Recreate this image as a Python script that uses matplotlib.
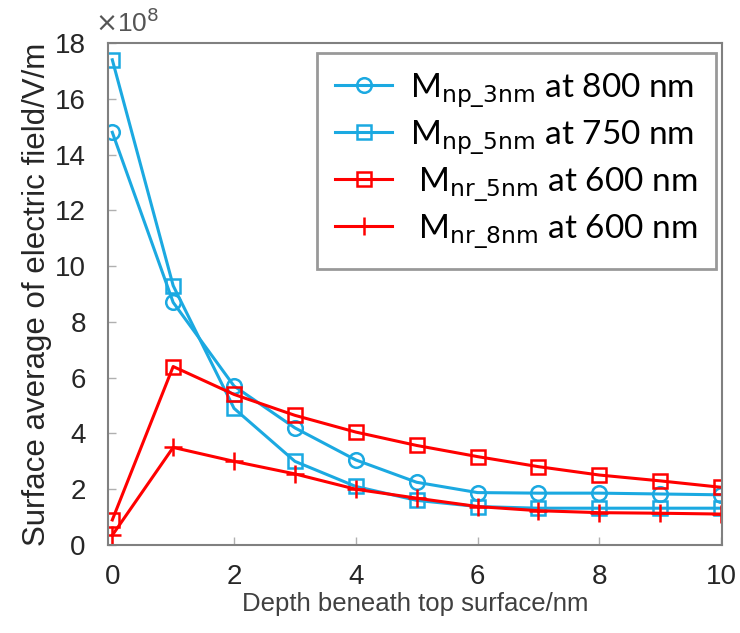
import numpy as np
import matplotlib.pyplot as plt

depth = [0, 1, 2, 3, 4, 5, 6, 7, 8, 9, 10]
np_3nm = [14.8, 8.7, 5.7, 4.2, 3.05, 2.25, 1.88, 1.86, 1.86, 1.83, 1.8]
np_5nm = [17.4, 9.3, 4.9, 3.0, 2.1, 1.6, 1.38, 1.32, 1.32, 1.32, 1.32]
nr_5nm = [0.9, 6.4, 5.4, 4.65, 4.05, 3.57, 3.17, 2.81, 2.51, 2.3, 2.07]
nr_8nm = [0.35, 3.5, 3.0, 2.55, 2.0, 1.68, 1.38, 1.23, 1.16, 1.14, 1.11]

labels = [r'M$_{\mathrm{np\_3nm}}$ at 800 nm',
          r'M$_{\mathrm{np\_5nm}}$ at 750 nm',
          r' M$_{\mathrm{nr\_5nm}}$ at 600 nm',
          r' M$_{\mathrm{nr\_8nm}}$ at 600 nm']

blue = '#1ba9e1'
red = '#ff0000'
gray = '#808080'

plt.rcParams['font.family'] = ['Liberation Sans', 'DejaVu Sans']

fig = plt.figure(figsize=(7.4, 6.33), dpi=100)
ax = fig.add_axes([0.146, 0.139, 0.83, 0.793])

mk = dict(markersize=10.5, markerfacecolor='none', markeredgewidth=1.8, linewidth=2.2)
ax.plot(depth, np_3nm, color=blue, marker='o', label=labels[0], **mk)
ax.plot(depth, np_5nm, color=blue, marker='s', label=labels[1], **mk)
ax.plot(depth, nr_5nm, color=red, marker='s', label=labels[2], **mk)
ax.plot(depth, nr_8nm, color=red, marker='+', label=labels[3], markersize=13,
        markeredgewidth=1.8, linewidth=2.2)

ax.set_xlim(-0.07, 10.02)
ax.set_ylim(0, 18)
ax.set_xticks(range(0, 11, 2))
ax.set_yticks(range(0, 19, 2))

for s in ax.spines.values():
    s.set_color(gray)
    s.set_linewidth(1.5)
ax.tick_params(direction='in', length=6, width=1, color='#b0b0b0',
               labelsize=20, labelcolor='#262626')
ax.tick_params(axis='y', pad=16)
ax.tick_params(axis='x', pad=14)

ax.set_xlabel('Depth beneath top surface/nm', fontsize=18.5, color='#404040',
              labelpad=1)
ax.set_ylabel('Surface average of electric field/V/m', fontsize=22.5,
              color='#262626', labelpad=2)
fig.text(0.128, 0.95, r'$\times$10$^8$', fontsize=19, color='#555555')

leg = ax.legend(loc='upper right', bbox_to_anchor=(0.99, 0.98),
                prop={'family': ['Lato', 'DejaVu Sans'], 'size': 24},
                frameon=True, fancybox=False, handlelength=1.7,
                handletextpad=0.55, borderpad=0.55, labelspacing=0.27,
                borderaxespad=0.0)
leg.get_frame().set_edgecolor(gray)
leg.get_frame().set_linewidth(2)

fig.savefig('out.png', dpi=100)
